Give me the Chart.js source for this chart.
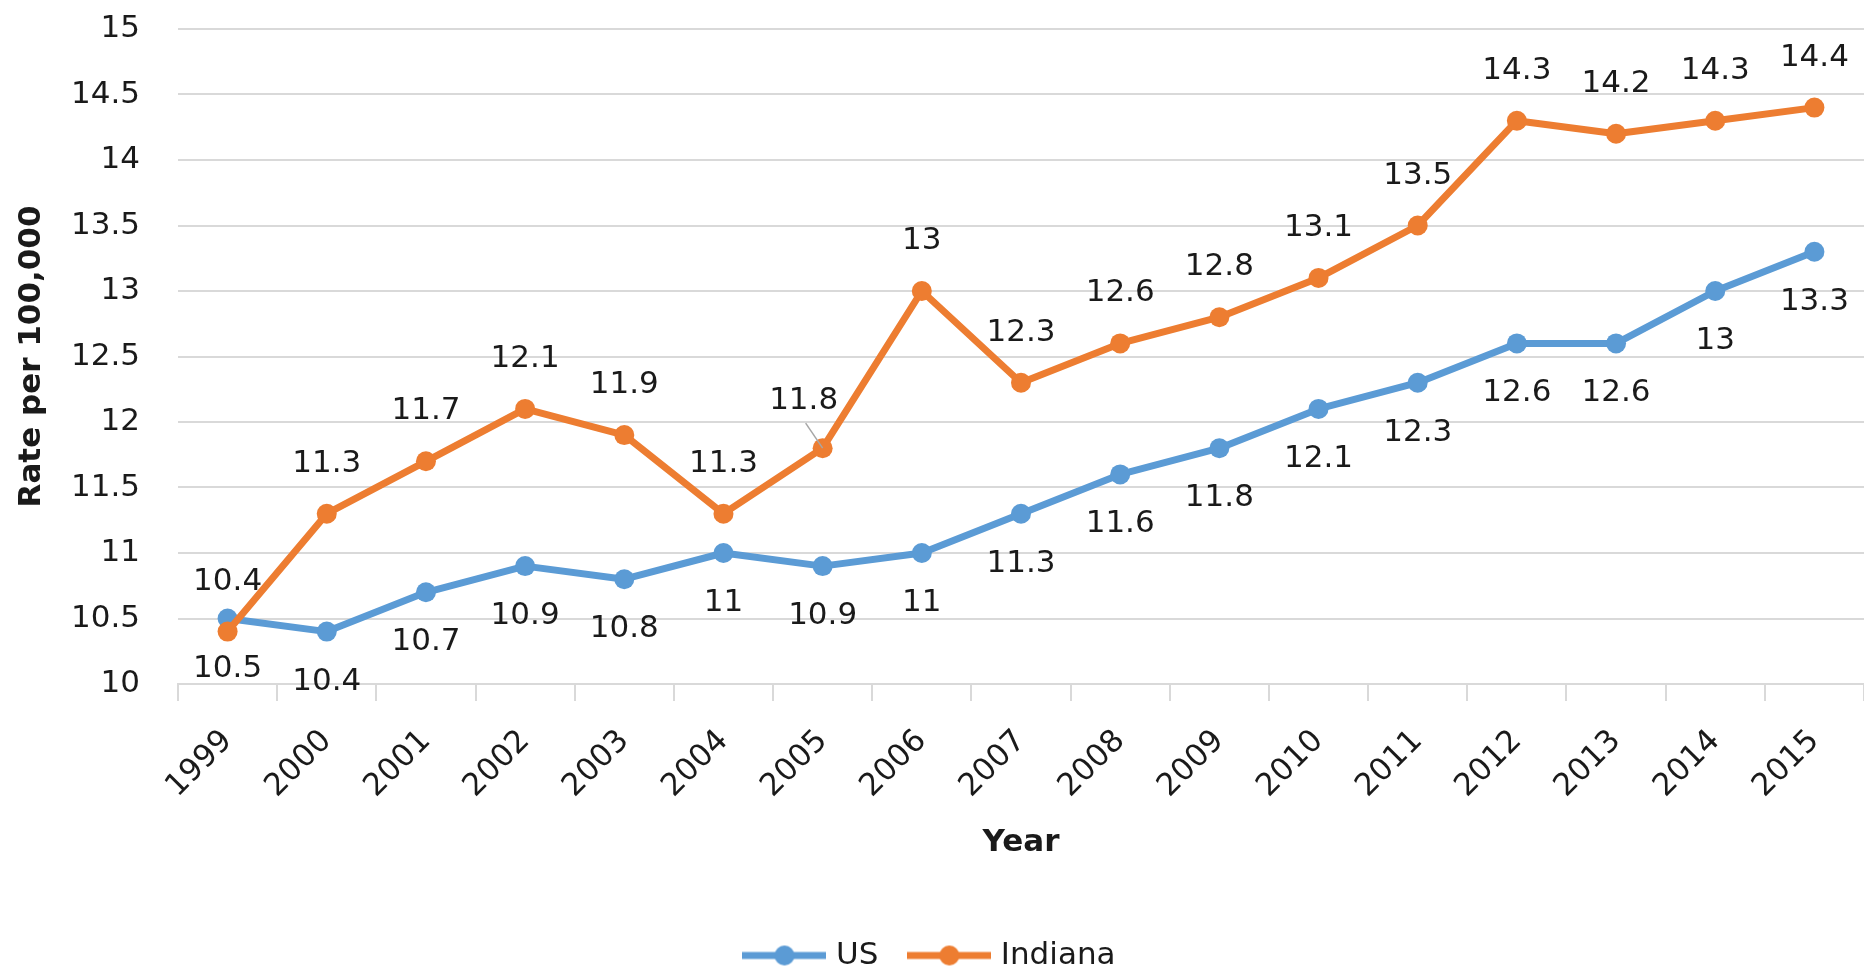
<!DOCTYPE html>
<html>
<head>
<meta charset="utf-8">
<script src="https://cdn.jsdelivr.net/npm/chart.js@4.4.1/dist/chart.umd.min.js"></script>
<style>
  html, body { margin: 0; padding: 0; background: #fff; }
</style>
</head>
<body>
<canvas id="rateChart" width="1864" height="973"></canvas>
<script>
// data
const years = ['1999', '2000', '2001', '2002', '2003', '2004', '2005', '2006', '2007',
  '2008', '2009', '2010', '2011', '2012', '2013', '2014', '2015'];
const usRates = [10.5, 10.4, 10.7, 10.9, 10.8, 11, 10.9, 11, 11.3, 11.6, 11.8, 12.1, 12.3, 12.6, 12.6, 13, 13.3];
const indianaRates = [10.4, 11.3, 11.7, 12.1, 11.9, 11.3, 11.8, 13, 12.3, 12.6, 12.8, 13.1, 13.5, 14.3, 14.2, 14.3, 14.4];
const yMin = 10;
const yMax = 15;
const yStep = 0.5;

const BLUE = '#5b9bd5';
const ORANGE = '#ed7d31';
const TEXT = '#1a1a1a';
const GRID = '#d9d9d9';
const FONT = '"DejaVu Sans", sans-serif';
const FS = 31;

// legend marker: short line with a dot in the middle, like Excel
function legendMark(color) {
  const c = document.createElement('canvas');
  c.width = 84;
  c.height = 24;
  const g = c.getContext('2d');
  g.strokeStyle = color;
  g.lineWidth = 7;
  g.beginPath();
  g.moveTo(0, 12);
  g.lineTo(84, 12);
  g.stroke();
  g.fillStyle = color;
  g.beginPath();
  g.arc(42, 12, 10, 0, Math.PI * 2);
  g.fill();
  return c;
}

// one label in the original was dragged off its point, with a leader line
const labelNudge = { '1-6': { dx: -19, dy: 3 } };

const valueLabels = {
  id: 'valueLabels',
  afterDatasetsDraw(chart) {
    const ctx = chart.ctx;
    ctx.save();
    ctx.font = FS + 'px ' + FONT;
    ctx.fillStyle = TEXT;
    ctx.textAlign = 'center';
    ctx.textBaseline = 'middle';
    chart.data.datasets.forEach((ds, di) => {
      const meta = chart.getDatasetMeta(di);
      const dir = di === 0 ? 1 : -1; // US below the line, Indiana above
      meta.data.forEach((pt, i) => {
        let x = pt.x;
        let y = pt.y + dir * 50;
        const n = labelNudge[di + '-' + i];
        if (n) {
          x += n.dx;
          y += n.dy;
          ctx.strokeStyle = '#a6a6a6';
          ctx.lineWidth = 1.5;
          ctx.beginPath();
          ctx.moveTo(x + 2, y + 22);
          ctx.lineTo(pt.x, pt.y);
          ctx.stroke();
        }
        ctx.fillText(String(ds.data[i]), x, y);
      });
    });
    ctx.restore();
  }
};

const ctx = document.getElementById('rateChart').getContext('2d');
new Chart(ctx, {
  type: 'line',
  data: {
    labels: years,
    datasets: [
      {
        label: 'US',
        data: usRates,
        borderColor: BLUE,
        backgroundColor: BLUE,
        pointBackgroundColor: BLUE,
        borderWidth: 7,
        pointRadius: 10,
        pointBorderWidth: 0,
        borderJoinStyle: 'round',
        tension: 0,
        fill: false,
        clip: false,
        order: 1,
      },
      {
        label: 'Indiana',
        data: indianaRates,
        borderColor: ORANGE,
        backgroundColor: ORANGE,
        pointBackgroundColor: ORANGE,
        borderWidth: 7,
        pointRadius: 10,
        pointBorderWidth: 0,
        borderJoinStyle: 'round',
        tension: 0,
        fill: false,
        clip: false,
        order: 0,
      },
    ],
  },
  options: {
    responsive: false,
    animation: false,
    devicePixelRatio: 1,
    layout: {
      autoPadding: false,
      padding: { top: 29, left: 0, right: 0, bottom: -8 },
    },
    plugins: {
      tooltip: { enabled: false },
      legend: {
        position: 'bottom',
        labels: {
          usePointStyle: true,
          pointStyleWidth: 72,
          padding: 35,
          color: TEXT,
          font: { family: FONT, size: FS },
          generateLabels(chart) {
            const items = Chart.defaults.plugins.legend.labels.generateLabels(chart);
            items.sort((a, b) => a.datasetIndex - b.datasetIndex);
            items.forEach(it => {
              const ds = chart.data.datasets[it.datasetIndex];
              it.pointStyle = legendMark(ds.borderColor);
            });
            return items;
          },
        },
      },
    },
    scales: {
      x: {
        offset: true,
        grid: {
          display: true,
          drawOnChartArea: false,
          drawTicks: true,
          tickLength: 17,
          offset: true,
          color: GRID,
          lineWidth: 2,
        },
        border: { display: true, color: GRID, width: 2 },
        ticks: {
          autoSkip: false,
          maxRotation: 45,
          minRotation: 45,
          padding: 22,
          color: TEXT,
          font: { family: FONT, size: FS },
        },
        title: {
          display: true,
          text: 'Year',
          color: TEXT,
          font: { family: FONT, size: FS, weight: 'bold' },
          padding: { top: 0, bottom: 43 },
        },
        afterFit(scale) {
          scale.height = 221;
        },
      },
      y: {
        min: yMin,
        max: yMax,
        ticks: {
          stepSize: yStep,
          padding: 38,
          color: TEXT,
          font: { family: FONT, size: FS },
          callback: (v) => String(v),
        },
        grid: {
          color: GRID,
          lineWidth: 2,
          drawTicks: false,
        },
        border: { display: false },
        title: {
          display: true,
          text: 'Rate per 100,000',
          color: TEXT,
          font: { family: FONT, size: FS, weight: 'bold' },
          padding: { top: 13, bottom: 0 },
        },
        afterFit(scale) {
          scale.width = 178;
          // tick padding is horizontal only here; keep it out of the top/bottom margins
          scale.paddingTop = 18;
          scale.paddingBottom = 18;
        },
      },
    },
  },
  plugins: [valueLabels],
});
</script>
</body>
</html>
